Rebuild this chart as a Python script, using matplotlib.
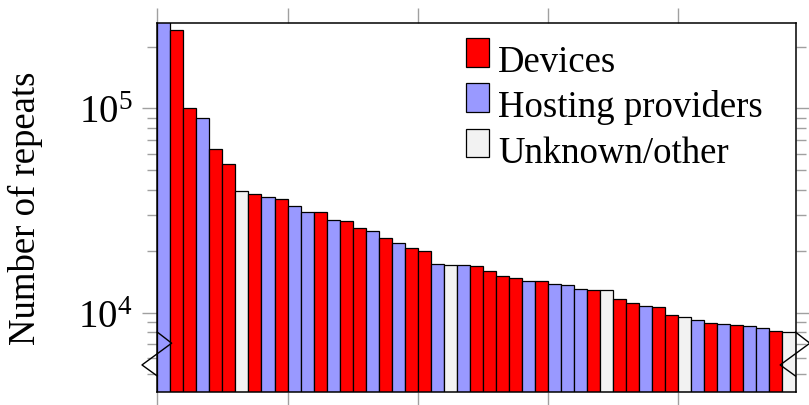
import matplotlib
matplotlib.use("Agg")
import matplotlib.pyplot as plt
from matplotlib.patches import Patch, Rectangle
from matplotlib.lines import Line2D
from matplotlib.legend_handler import HandlerPatch
import numpy as np

plt.rcParams['font.family'] = ['Liberation Serif', 'DejaVu Serif']
plt.rcParams['mathtext.fontset'] = 'custom'
plt.rcParams['mathtext.rm'] = 'Liberation Serif'
plt.rcParams['mathtext.it'] = 'Liberation Serif:italic'

# categories: D = Devices, H = Hosting providers, U = Unknown/other
categories = list("HDDHDDUDHDHHDHDDHDHDDHUHDDDDHDHHHDUDDHDDUHDHDHHDU")
values = [270000, 240000, 100000, 89400, 63400, 53400, 39300, 38200, 36800, 35900,
          33400, 31200, 31200, 28300, 28000, 26000, 25200, 23100, 21800, 20600,
          19900, 17200, 17100, 17050, 16900, 16050, 15100, 14700, 14300, 14300,
          13800, 13700, 13100, 12950, 12900, 11600, 11200, 10800, 10650, 9740,
          9560, 9200, 8900, 8840, 8740, 8580, 8420, 8140, 8050]
legend_labels = ["Devices", "Hosting providers", "Unknown/other"]
colors = {"D": "#ff0000", "H": "#9999ff", "U": "#f2f2f2"}

W, H = 809, 406
fig = plt.figure(figsize=(W / 100, H / 100), dpi=100)
ax = fig.add_axes([157.3 / W, 1 - 392.7 / H, (795.5 - 157.3) / W, (392.7 - 23.7) / H])

x = np.arange(len(values)) + 0.5
ax.bar(x, values, width=1.0, color=[colors[c] for c in categories],
       edgecolor='black', linewidth=0.9, zorder=2)

ax.set_yscale('log')
ax.set_ylim(4100, 262000)
ax.set_xlim(0, len(values))
ax.set_xticks([0, 10, 20, 30, 40])
ax.set_xticklabels([])
ax.set_yticks([1e4, 1e5])
ax.set_yticklabels([r'$10^4$', r'$10^5$'])
ax.tick_params(axis='x', which='both', direction='out', top=True, bottom=True,
               length=11, width=1.0, color='#a0a0a0')
ax.tick_params(axis='y', which='major', direction='out', left=True, right=True,
               length=11, width=1.0, color='#a0a0a0', labelsize=28, pad=7)
ax.tick_params(axis='y', which='minor', direction='out', left=True, right=True,
               length=7.5, width=1.0, color='#a0a0a0', labelleft=False)
for s in ax.spines.values():
    s.set_linewidth(1.1)
    s.set_color('black')
    s.set_zorder(3)

ax.set_ylabel("Number of repeats", fontsize=26.5, labelpad=25)

# axis break symbols
zz_y = [0.1615, 0.1315, 0.0725, 0.0425]
zz_dx = [0.0, 0.0225, -0.0240, 0.0]
ax.add_line(Line2D([0 + d for d in zz_dx], zz_y, transform=ax.transAxes,
                   color='black', lw=1.0, clip_on=False, zorder=5))
ax.add_line(Line2D([1 + d for d in zz_dx], zz_y, transform=ax.transAxes,
                   color='black', lw=1.0, clip_on=False, zorder=5))


def raised_rect(legend, orig_handle, xdescent, ydescent, width, height, fontsize):
    return Rectangle((-xdescent, -ydescent + 4.3), width, height)


handles = [Patch(facecolor=colors[k], edgecolor='black', linewidth=0.9) for k in "DHU"]
leg = ax.legend(handles, legend_labels, loc='upper left',
                bbox_to_anchor=(466 / W, 1 - 45 / H), bbox_transform=fig.transFigure,
                frameon=False, fontsize=26.5, handlelength=0.625, handleheight=0.815,
                handletextpad=0.25, labelspacing=0.28, borderpad=0, borderaxespad=0,
                handler_map={Patch: HandlerPatch(patch_func=raised_rect)})

fig.savefig("out.png", dpi=100)
